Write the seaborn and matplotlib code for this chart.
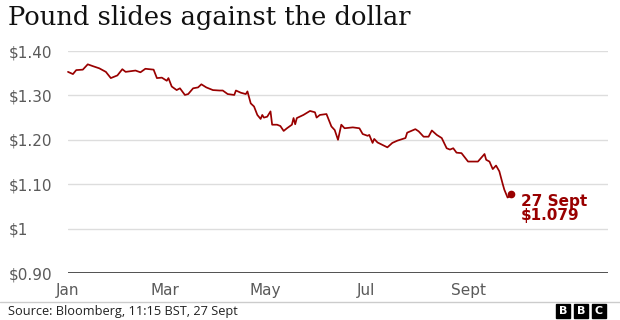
import matplotlib
matplotlib.use("Agg")
import matplotlib.pyplot as plt
from matplotlib.lines import Line2D
from matplotlib.patches import Rectangle
import pandas as pd
import seaborn as sns

# ---- data ----
dates = [
    "2022-01-01", "2022-01-04", "2022-01-06", "2022-01-10", "2022-01-13", "2022-01-16",
    "2022-01-20", "2022-01-24", "2022-01-27", "2022-01-31", "2022-02-03", "2022-02-05",
    "2022-02-11", "2022-02-14", "2022-02-17", "2022-02-22", "2022-02-24", "2022-02-27",
    "2022-03-02", "2022-03-03", "2022-03-05", "2022-03-08", "2022-03-10", "2022-03-13",
    "2022-03-15", "2022-03-18", "2022-03-21", "2022-03-23", "2022-03-26", "2022-03-30",
    "2022-04-03", "2022-04-05", "2022-04-08", "2022-04-12", "2022-04-13", "2022-04-16",
    "2022-04-19", "2022-04-20", "2022-04-22", "2022-04-24", "2022-04-26", "2022-04-28",
    "2022-04-29", "2022-04-30", "2022-05-02", "2022-05-04", "2022-05-05", "2022-05-08",
    "2022-05-10", "2022-05-12", "2022-05-14", "2022-05-17", "2022-05-18", "2022-05-19",
    "2022-05-20", "2022-05-24", "2022-05-28", "2022-05-31", "2022-06-01", "2022-06-03",
    "2022-06-07", "2022-06-10", "2022-06-12", "2022-06-14", "2022-06-16", "2022-06-18",
    "2022-06-23", "2022-06-27", "2022-06-29", "2022-07-02", "2022-07-03", "2022-07-05",
    "2022-07-06", "2022-07-08", "2022-07-14", "2022-07-17", "2022-07-20", "2022-07-25",
    "2022-07-26", "2022-07-31", "2022-08-02", "2022-08-05", "2022-08-08", "2022-08-10",
    "2022-08-13", "2022-08-16", "2022-08-19", "2022-08-21", "2022-08-23", "2022-08-25",
    "2022-08-28", "2022-09-01", "2022-09-07", "2022-09-11", "2022-09-12", "2022-09-14",
    "2022-09-16", "2022-09-18", "2022-09-20", "2022-09-22", "2022-09-23", "2022-09-25",
    "2022-09-26", "2022-09-27",
]
rates = [
    1.353, 1.348, 1.357, 1.358, 1.370, 1.366,
    1.361, 1.353, 1.339, 1.345, 1.359, 1.353,
    1.356, 1.352, 1.360, 1.358, 1.339, 1.340,
    1.333, 1.339, 1.320, 1.312, 1.316, 1.301,
    1.303, 1.316, 1.318, 1.325, 1.318, 1.312,
    1.311, 1.311, 1.303, 1.301, 1.311, 1.306,
    1.303, 1.309, 1.282, 1.275, 1.256, 1.247,
    1.256, 1.250, 1.252, 1.264, 1.234, 1.234,
    1.231, 1.220, 1.226, 1.234, 1.249, 1.235,
    1.249, 1.256, 1.265, 1.262, 1.250, 1.256,
    1.258, 1.230, 1.222, 1.200, 1.234, 1.226,
    1.228, 1.226, 1.213, 1.209, 1.211, 1.193,
    1.202, 1.194, 1.183, 1.193, 1.198, 1.204,
    1.216, 1.224, 1.219, 1.207, 1.207, 1.221,
    1.211, 1.204, 1.181, 1.178, 1.181, 1.171,
    1.170, 1.151, 1.151, 1.168, 1.155, 1.151,
    1.134, 1.142, 1.129, 1.101, 1.088, 1.070,
    1.072, 1.079,
]
y_ticks = [0.90, 1.00, 1.10, 1.20, 1.30, 1.40]
y_tick_labels = ["$0.90", "$1", "$1.10", "$1.20", "$1.30", "$1.40"]
x_ticks = ["2022-01-01", "2022-03-01", "2022-05-01", "2022-07-01", "2022-09-01"]
x_tick_labels = ["Jan", "Mar", "May", "Jul", "Sept"]
title = "Pound slides against the dollar"
source = "Source: Bloomberg, 11:15 BST, 27 Sept"
last_label = "27 Sept\n$1.079"

df = pd.DataFrame({"date": pd.to_datetime(dates), "rate": rates})

sns.set_theme(style="white")
plt.rcParams["font.family"] = ["DejaVu Sans"]

RED = "#990000"
W, H = 620, 320
fig = plt.figure(figsize=(W / 100, H / 100), dpi=100)
ax = fig.add_axes([68 / W, 1 - 273 / H, 540 / W, (273 - 51) / H])

sns.lineplot(data=df, x="date", y="rate", ax=ax, color=RED, linewidth=1.25,
             clip_on=False)
ax.plot(df["date"].iloc[-1], df["rate"].iloc[-1], "o", color=RED,
        markersize=4.5, clip_on=False)

ax.set_ylim(0.90, 1.40)
ax.set_xlim(pd.Timestamp("2022-01-01"), pd.Timestamp("2022-11-25"))

for v in y_ticks[1:]:
    ax.axhline(v, color="#dddddd", linewidth=1, zorder=0)
ax.axhline(0.90, color="#222222", linewidth=1.1, zorder=1)

for s in ax.spines.values():
    s.set_visible(False)

ax.set_yticks(y_ticks)
ax.set_yticklabels(y_tick_labels)
ax.tick_params(axis="y", length=0, pad=43, labelsize=11, labelcolor="#5a5a5a")
for lbl in ax.get_yticklabels():
    lbl.set_horizontalalignment("left")

ax.set_xticks(pd.to_datetime(x_ticks))
ax.set_xticklabels(x_tick_labels)
ax.tick_params(axis="x", length=0, pad=7, labelsize=11, labelcolor="#5a5a5a")
ax.set_xlabel("")
ax.set_ylabel("")

ax.annotate(last_label, xy=(df["date"].iloc[-1], df["rate"].iloc[-1]),
            xytext=(7, 0), textcoords="offset points", ha="left", va="top",
            color=RED, fontsize=11, fontweight="bold", linespacing=0.95)

fig.text(8 / W, 1 - 18 / H, title, ha="left", va="center",
         fontsize=18.5, family=["DejaVu Serif"], color="#111111")

fig.add_artist(Line2D([0, 1], [1 - 302 / H, 1 - 302 / H], color="#cccccc",
                      linewidth=1))
fig.text(8 / W, 1 - 311 / H, source, ha="left", va="center", fontsize=9.2,
         color="#222222", family=["Open Sans", "DejaVu Sans"])

for i, letter in enumerate("BBC"):
    x0 = 556 + i * 18
    fig.add_artist(Rectangle((x0 / W, 1 - 318 / H), 14 / W, 14 / H,
                             color="#000000", transform=fig.transFigure))
    fig.text((x0 + 7) / W, 1 - 311 / H, letter, ha="center", va="center",
             color="white", fontsize=8, fontweight="bold",
             family=["DejaVu Sans"])

fig.savefig("out.png", dpi=100)
